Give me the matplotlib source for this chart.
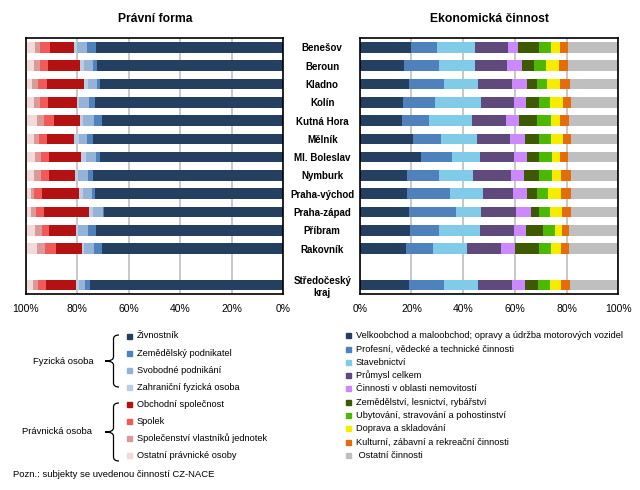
import matplotlib
matplotlib.use('Agg')
import matplotlib.pyplot as plt
from matplotlib.patches import Rectangle, PathPatch
from matplotlib.path import Path

plt.rcParams['font.family'] = ['Liberation Sans', 'DejaVu Sans']

# data (shares in %)
okresy = ['Benešov', 'Beroun', 'Kladno', 'Kolín', 'Kutná Hora', 'Mělník', 'Ml. Boleslav',
          'Nymburk', 'Praha-východ', 'Praha-západ', 'Příbram', 'Rakovník', 'Středočeský\nkraj']

# Právní forma
zivnostnik = [72.7, 72.3, 71.2, 73.1, 70.4, 73.9, 71.2, 73.9, 73.1, 69.6, 72.7, 70.4, 75.0]
zemedelsky = [3.5, 1.6, 1.2, 2.3, 3.1, 2.3, 1.6, 1.9, 1.2, 0.4, 3.1, 3.1, 1.9]
svobodne = [3.8, 3.5, 3.5, 3.9, 4.3, 3.1, 3.9, 3.9, 3.5, 3.9, 3.9, 3.9, 2.3]
zahranicni = [1.3, 1.6, 1.6, 0.8, 1.2, 1.9, 1.9, 1.2, 1.6, 1.6, 0.8, 0.8, 1.2]
obchodni = [9.3, 12.4, 14.4, 11.3, 10.1, 10.5, 12.4, 10.1, 14.4, 17.5, 10.5, 10.1, 11.6]
spolek = [3.9, 3.1, 3.5, 3.1, 3.9, 3.1, 3.1, 3.1, 3.1, 3.1, 2.7, 4.3, 3.1]
svj = [1.9, 2.3, 2.3, 2.3, 2.7, 1.9, 2.3, 2.7, 1.2, 1.9, 2.7, 3.1, 1.9]
ostatni_po = [3.6, 3.2, 2.5, 3.2, 4.4, 3.2, 3.6, 3.2, 2.1, 2.1, 3.6, 4.4, 2.8]

# Ekonomická činnost
velkoobchod = [19.8, 17.1, 19.1, 16.8, 16.4, 20.6, 23.7, 18.3, 18.3, 19.1, 19.5, 17.9, 19.1]
profesni = [10.1, 13.5, 13.5, 12.4, 10.4, 10.8, 12.0, 12.4, 16.6, 18.2, 11.2, 10.4, 13.5]
stavebnictvi = [14.7, 13.9, 13.1, 17.8, 16.6, 13.9, 10.8, 13.1, 12.8, 9.7, 15.9, 13.1, 13.1]
prumysl = [12.8, 12.4, 13.1, 12.8, 13.1, 12.8, 13.1, 14.7, 11.6, 13.5, 13.1, 13.1, 13.1]
nemovitosti = [3.9, 5.8, 5.8, 4.6, 5.0, 5.8, 5.0, 5.0, 5.4, 5.8, 4.6, 5.4, 5.0]
zemedelstvi = [8.1, 4.6, 3.9, 5.0, 7.0, 5.4, 4.6, 5.8, 3.9, 3.1, 6.6, 9.3, 5.0]
ubytovani = [4.6, 4.6, 3.9, 4.3, 5.4, 4.6, 5.0, 5.0, 4.3, 4.3, 4.6, 4.6, 4.6]
doprava = [3.5, 5.0, 5.0, 5.0, 3.5, 4.6, 3.1, 3.5, 5.0, 4.6, 2.7, 3.9, 4.3]
kulturni = [3.1, 3.5, 3.9, 3.1, 3.5, 3.1, 3.1, 3.9, 3.9, 3.5, 2.7, 3.1, 3.5]
ostatni_c = [19.5, 19.5, 18.7, 18.3, 19.1, 18.3, 19.5, 18.3, 18.3, 18.3, 19.1, 19.1, 18.7]

forma_names = ['Živnostník', 'Zemědělský podnikatel', 'Svobodné podnikání', 'Zahraniční fyzická osoba',
               'Obchodní společnost', 'Spolek', 'Společenství vlastníků jednotek', 'Ostatní právnické osoby']
forma_vals = [zivnostnik, zemedelsky, svobodne, zahranicni, obchodni, spolek, svj, ostatni_po]
forma_colors = ['#243F60', '#4F81BD', '#95B3D7', '#B9CDE5', '#B41212', '#F25A5A', '#D99A98', '#F2DADA']

cinnost_names = ['Velkoobchod a maloobchod; opravy a údržba motorových vozidel',
                 'Profesní, vědecké a technické činnosti', 'Stavebnictví', 'Průmysl celkem',
                 'Činnosti v oblasti nemovitostí', 'Zemědělství, lesnictví, rybářství',
                 'Ubytování, stravování a pohostinství', 'Doprava a skladování',
                 'Kulturní, zábavní a rekreační činnosti', ' Ostatní činnosti']
cinnost_vals = [velkoobchod, profesni, stavebnictvi, prumysl, nemovitosti, zemedelstvi,
                ubytovani, doprava, kulturni, ostatni_c]
cinnost_colors = ['#243F60', '#4F81BD', '#80CCE8', '#604A7B', '#CC88FF', '#3D5A00',
                  '#4DB800', '#F5EC00', '#E46C0A', '#BFBFBF']

ypos = list(range(12)) + [13]

W, H = 640, 490
fig = plt.figure(figsize=(6.4, 4.9), dpi=100)


def fx(x):
    return x / W


def fy(y):
    return 1 - y / H


ax1 = fig.add_axes([fx(25.7), fy(294.3), 257.6 / W, 256 / H])
ax2 = fig.add_axes([fx(359.7), fy(294.3), 258.6 / W, 256 / H])


def stack(ax, vals, colors):
    left = [0] * len(ypos)
    for v, c in zip(vals, colors):
        ax.barh(ypos, v, left=left, height=0.58, color=c, linewidth=0, zorder=2)
        left = [a + b for a, b in zip(left, v)]


stack(ax1, forma_vals, forma_colors)
stack(ax2, cinnost_vals, cinnost_colors)

ticks = [0, 20, 40, 60, 80, 100]
for ax in (ax1, ax2):
    ax.set_ylim(13.5, -0.5)
    ax.set_xticks(ticks)
    ax.set_xticklabels([f'{t}%' for t in ticks], fontsize=7.5)
    ax.grid(axis='x', color='#BFBFBF', linewidth=1.2, zorder=0)
    ax.set_axisbelow(True)
    ax.tick_params(length=0, pad=7)
    for s in ax.spines.values():
        s.set_color('black')
        s.set_linewidth(1.2)

ax1.set_xlim(100, 0)
ax1.set_yticks([])
ax2.set_xlim(0, 100)
ax2.set_yticks(ypos)
ax2.set_yticklabels(okresy, fontsize=7, fontweight='bold', ha='center', multialignment='center')
ax2.tick_params(axis='y', pad=27)

fig.text(fx(155), fy(19), 'Právní forma', fontsize=8.7, fontweight='bold', ha='center', va='center')
fig.text(fx(489), fy(19), 'Ekonomická činnost', fontsize=8.7, fontweight='bold', ha='center', va='center')

# left legend
for i, (name, c) in enumerate(zip(forma_names, forma_colors)):
    y = 336 + i * 17.1
    fig.add_artist(Rectangle((fx(127), fy(y + 2.5)), 5 / W, 5 / H, color=c, transform=fig.transFigure))
    fig.text(fx(137), fy(y), name, fontsize=6.7, va='center', ha='left')


def brace(top, bottom, x=113.5, hook=119, tip=105):
    mid = (top + bottom) / 2
    pts = [(hook, top), (x, top), (x, top + 4),
           (x, mid - 4), (x, mid), (tip, mid),
           (x, mid), (x, mid + 4),
           (x, bottom - 4), (x, bottom), (hook, bottom)]
    codes = [Path.MOVETO, Path.CURVE3, Path.CURVE3,
             Path.LINETO, Path.CURVE3, Path.CURVE3,
             Path.CURVE3, Path.CURVE3,
             Path.LINETO, Path.CURVE3, Path.CURVE3]
    verts = [(fx(a), fy(b)) for a, b in pts]
    fig.add_artist(PathPatch(Path(verts, codes), fill=False, edgecolor='black', linewidth=0.9,
                             transform=fig.transFigure))


brace(335, 387)
brace(403, 461)
fig.text(fx(63), fy(361), 'Fyzická osoba', fontsize=6.8, ha='center', va='center')
fig.text(fx(57), fy(431), 'Právnická osoba', fontsize=6.8, ha='center', va='center')

# right legend
for i, (name, c) in enumerate(zip(cinnost_names, cinnost_colors)):
    y = 335.7 + i * 13.3
    fig.add_artist(Rectangle((fx(346), fy(y + 2.5)), 5 / W, 5 / H, color=c, transform=fig.transFigure))
    fig.text(fx(356), fy(y), name, fontsize=6.7, va='center', ha='left')

fig.text(fx(13), fy(474), 'Pozn.: subjekty se uvedenou činností CZ-NACE', fontsize=6.8, va='center', ha='left')

fig.savefig('out.png', dpi=100)
